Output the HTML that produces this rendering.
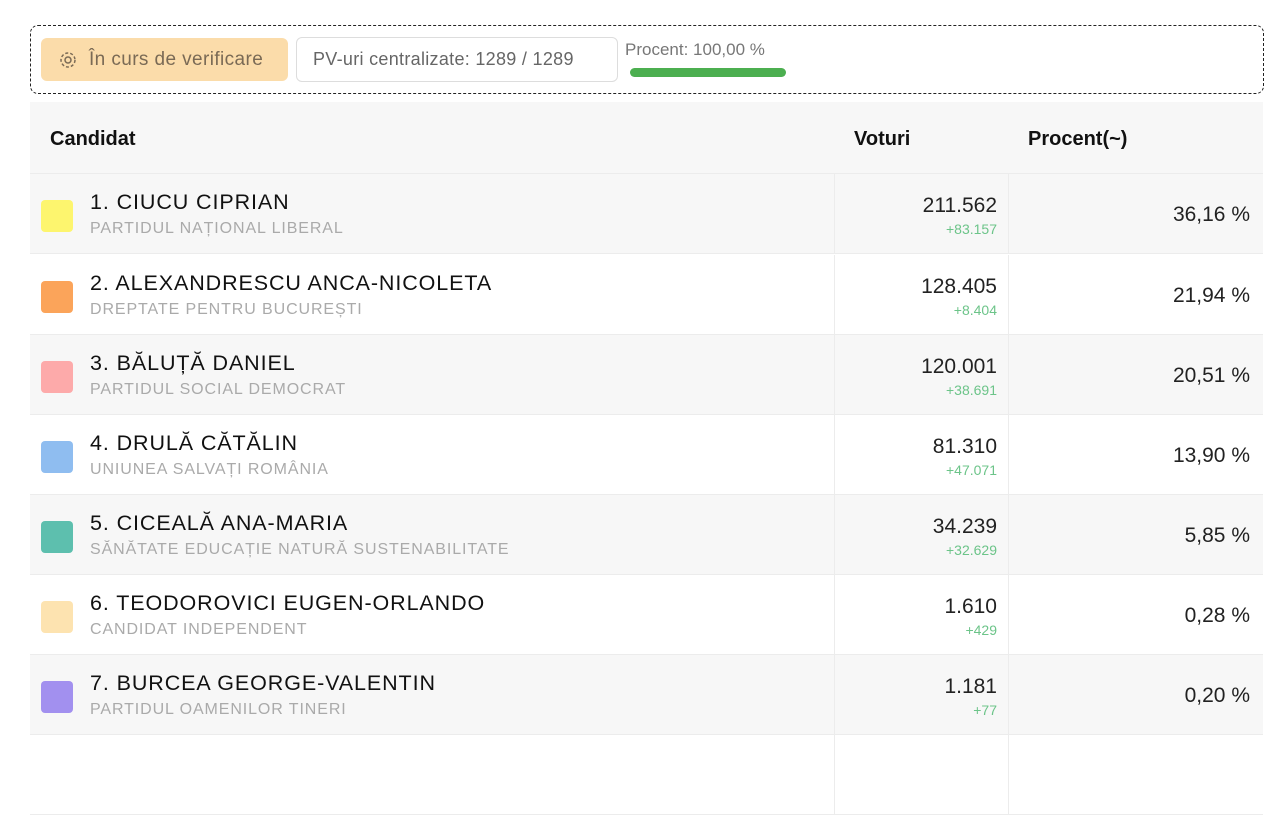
<!DOCTYPE html>
<html><head><meta charset="utf-8"><style>
*{box-sizing:border-box;margin:0;padding:0}
body{width:1280px;height:742px;overflow:hidden;background:#fff;font-family:"Liberation Sans",sans-serif;position:relative}
.a{position:absolute}
.top{left:30px;top:25px;width:1234px;height:69px;border:1.5px dashed #222;border-radius:8px}
.b1{left:41px;top:38px;width:247px;height:43px;background:#fbdcaa;border-radius:6px;color:#7a6a55;font-size:19px;line-height:43px;padding-left:48px;letter-spacing:0.4px}
.b2{left:296px;top:37px;width:322px;height:45px;border:1px solid #ddd;border-radius:6px;color:#666;font-size:18px;line-height:43px;padding-left:16px;letter-spacing:0.3px}
.pc{left:625px;top:40px;color:#777;font-size:17px}
.bar{left:630px;top:68px;width:156px;height:9px;background:#4caf50;border-radius:5px}
.hd{left:30px;top:102px;width:1233px;height:72px;background:#f7f7f7;border-bottom:1px solid #ececec}
.hd span{position:absolute;top:26px;font-weight:bold;font-size:20px;color:#111}
.row{left:30px;width:1233px;height:80px;border-bottom:1px solid #ececec}
.row .sw{position:absolute;left:11px;top:26px;width:32px;height:32px;border-radius:4px}
.row .n{position:absolute;left:60px;top:16px;font-size:21.5px;color:#111;letter-spacing:0.9px}
.row .p{position:absolute;left:60px;top:46px;font-size:16px;color:#aaa;letter-spacing:0.9px}
.row .v{position:absolute;right:266px;top:20px;font-size:21px;color:#222;text-align:right}
.row .d{position:absolute;right:266px;top:47px;font-size:14px;color:#6cc489;text-align:right}
.row .pr{position:absolute;right:13px;top:29px;font-size:21px;color:#222}
.row .l1{position:absolute;left:804px;top:0;width:1px;height:80px;background:#ececec}
.row .l2{position:absolute;left:978px;top:0;width:1px;height:80px;background:#ececec}
</style></head><body>
<div class="a top"></div>
<div class="a b1"><svg style="position:absolute;left:17px;top:12px" width="20" height="20" viewBox="0 0 20 20"><circle cx="10" cy="10" r="3" fill="none" stroke="#7a6a55" stroke-width="1.5"/><circle cx="10" cy="10" r="7" fill="none" stroke="#7a6a55" stroke-width="1.5" stroke-dasharray="3 2"/></svg>În curs de verificare</div>
<div class="a b2">PV-uri centralizate: 1289 / 1289</div>
<div class="a pc">Procent: 100,00 %</div>
<div class="a bar"></div>
<div class="a hd"><span style="left:20px">Candidat</span><span style="left:824px">Voturi</span><span style="left:998px">Procent(~)</span></div>

<div class="a row" style="top:174px;background:#f7f7f7"><div class="sw" style="background:#fdf56e"></div><div class="n">1. CIUCU CIPRIAN</div><div class="p">PARTIDUL NAȚIONAL LIBERAL</div><div class="l1"></div><div class="l2"></div><div class="v">211.562</div><div class="d">+83.157</div><div class="pr">36,16 %</div></div>
<div class="a row" style="top:255px;background:#fff"><div class="sw" style="background:#fba45a"></div><div class="n">2. ALEXANDRESCU ANCA-NICOLETA</div><div class="p">DREPTATE PENTRU BUCUREȘTI</div><div class="l1"></div><div class="l2"></div><div class="v">128.405</div><div class="d">+8.404</div><div class="pr">21,94 %</div></div>
<div class="a row" style="top:335px;background:#f7f7f7"><div class="sw" style="background:#fdaaaa"></div><div class="n">3. BĂLUȚĂ DANIEL</div><div class="p">PARTIDUL SOCIAL DEMOCRAT</div><div class="l1"></div><div class="l2"></div><div class="v">120.001</div><div class="d">+38.691</div><div class="pr">20,51 %</div></div>
<div class="a row" style="top:415px;background:#fff"><div class="sw" style="background:#8fbdf0"></div><div class="n">4. DRULĂ CĂTĂLIN</div><div class="p">UNIUNEA SALVAȚI ROMÂNIA</div><div class="l1"></div><div class="l2"></div><div class="v">81.310</div><div class="d">+47.071</div><div class="pr">13,90 %</div></div>
<div class="a row" style="top:495px;background:#f7f7f7"><div class="sw" style="background:#5dbfae"></div><div class="n">5. CICEALĂ ANA-MARIA</div><div class="p">SĂNĂTATE EDUCAȚIE NATURĂ SUSTENABILITATE</div><div class="l1"></div><div class="l2"></div><div class="v">34.239</div><div class="d">+32.629</div><div class="pr">5,85 %</div></div>
<div class="a row" style="top:575px;background:#fff"><div class="sw" style="background:#fde3b0"></div><div class="n">6. TEODOROVICI EUGEN-ORLANDO</div><div class="p">CANDIDAT INDEPENDENT</div><div class="l1"></div><div class="l2"></div><div class="v">1.610</div><div class="d">+429</div><div class="pr">0,28 %</div></div>
<div class="a row" style="top:655px;background:#f7f7f7"><div class="sw" style="background:#a290ef"></div><div class="n">7. BURCEA GEORGE-VALENTIN</div><div class="p">PARTIDUL OAMENILOR TINERI</div><div class="l1"></div><div class="l2"></div><div class="v">1.181</div><div class="d">+77</div><div class="pr">0,20 %</div></div>
<div class="a row" style="top:735px;background:#fff"><div class="l1"></div><div class="l2"></div></div>
</body></html>
